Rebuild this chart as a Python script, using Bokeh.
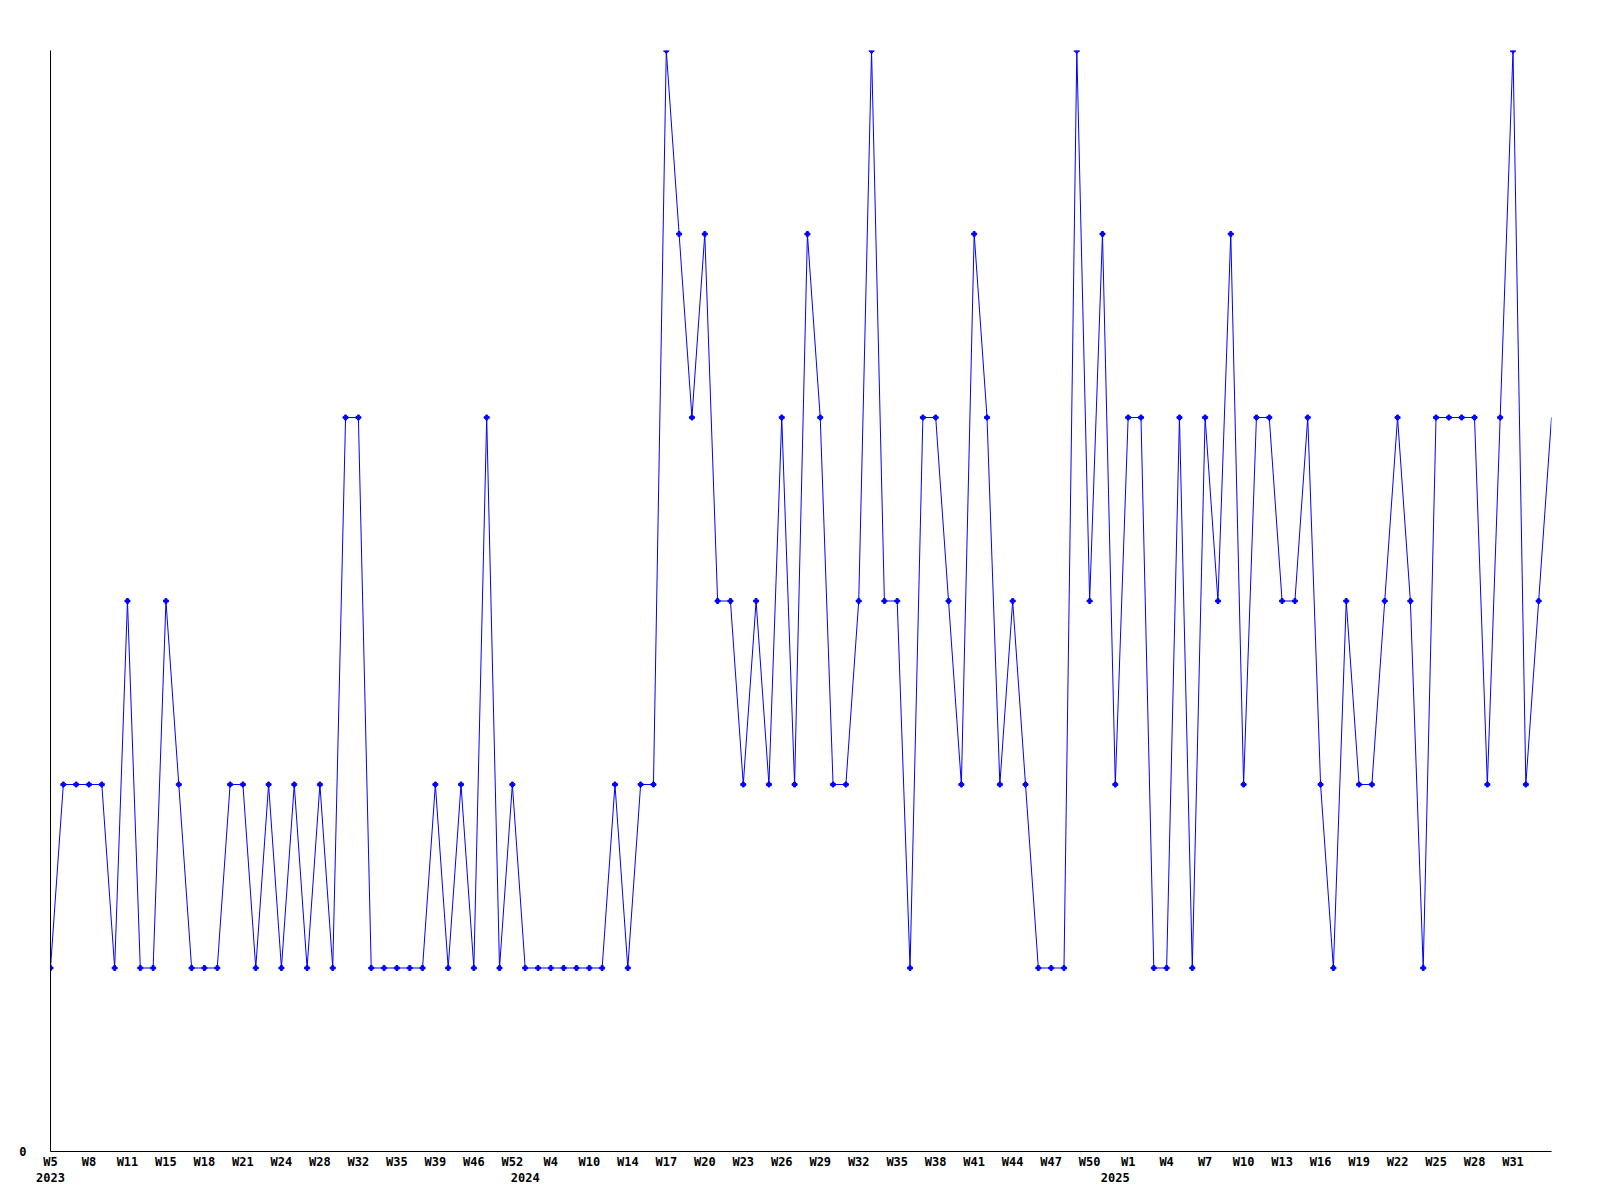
from bokeh.plotting import figure
from bokeh.models import Range1d, FixedTicker, LinearAxis
from bokeh.embed import file_html
from bokeh.resources import INLINE

# weekly values, one per point (evenly spaced)
values = [
    1, 2, 2, 2, 2, 1, 3, 1, 1, 3, 2, 1, 1, 1, 2, 2, 1, 2, 1, 2,
    1, 2, 1, 4, 4, 1, 1, 1, 1, 1, 2, 1, 2, 1, 4, 1, 2, 1, 1, 1,
    1, 1, 1, 1, 2, 1, 2, 2, 6, 5, 4, 5, 3, 3, 2, 3, 2, 4, 2, 5,
    4, 2, 2, 3, 6, 3, 3, 1, 4, 4, 3, 2, 5, 4, 2, 3, 2, 1, 1, 1,
    6, 3, 5, 2, 4, 4, 1, 1, 4, 1, 4, 3, 5, 2, 4, 4, 3, 3, 4, 2,
    1, 3, 2, 2, 3, 4, 3, 1, 4, 4, 4, 4, 2, 4, 6, 2, 3, 4,
]

# week labels shown on every third point
week_labels = [
    "W5", "W8", "W11", "W15", "W18", "W21", "W24", "W28", "W32", "W35",
    "W39", "W46", "W52", "W4", "W10", "W14", "W17", "W20", "W23", "W26",
    "W29", "W32", "W35", "W38", "W41", "W44", "W47", "W50", "W1", "W4",
    "W7", "W10", "W13", "W16", "W19", "W22", "W25", "W28", "W31",
]
label_step = 3

# year labels and the point index where each year starts
years = ["2023", "2024", "2025"]
year_start_index = [0, 37, 83]

x = list(range(len(values)))
FONT = "DejaVu Sans Mono"

p = figure(
    output_backend="svg",
    toolbar_location=None,
    frame_width=1501,
    frame_height=1101,
    min_border_left=50,
    min_border_top=50,
    min_border_right=33,
    min_border_bottom=10,
    x_range=Range1d(0, len(values) - 1),
    y_range=Range1d(0, 6),
    x_axis_type=None,
    y_axis_type=None,
)
p.outline_line_color = None
p.xgrid.visible = False
p.ygrid.visible = False
p.background_fill_color = "white"
p.border_fill_color = "white"

# y axis: only the zero label
yaxis = LinearAxis(ticker=FixedTicker(ticks=[0]))
yaxis.axis_line_color = "black"
yaxis.axis_line_width = 1
yaxis.major_tick_line_color = None
yaxis.minor_tick_line_color = None
yaxis.major_tick_out = 0
yaxis.major_tick_in = 0
yaxis.major_label_standoff = 24
yaxis.major_label_text_font = FONT
yaxis.major_label_text_font_style = "bold"
yaxis.major_label_text_font_size = "12px"
yaxis.major_label_text_color = "black"
p.add_layout(yaxis, "left")

# x axis: week labels
tick_pos = [i * label_step for i in range(len(week_labels))]
xaxis = LinearAxis(ticker=FixedTicker(ticks=tick_pos))
xaxis.major_label_overrides = {t: lab for t, lab in zip(tick_pos, week_labels)}
xaxis.axis_line_color = "black"
xaxis.axis_line_width = 1
xaxis.major_tick_line_color = None
xaxis.minor_tick_line_color = None
xaxis.major_tick_out = 0
xaxis.major_tick_in = 0
xaxis.major_label_standoff = 3
xaxis.major_label_text_font = FONT
xaxis.major_label_text_font_style = "bold"
xaxis.major_label_text_font_size = "12px"
xaxis.major_label_text_color = "black"
p.add_layout(xaxis, "below")

# second row: years
yr_axis = LinearAxis(ticker=FixedTicker(ticks=year_start_index))
yr_axis.major_label_overrides = {t: lab for t, lab in zip(year_start_index, years)}
yr_axis.axis_line_color = None
yr_axis.major_tick_line_color = None
yr_axis.minor_tick_line_color = None
yr_axis.major_tick_out = 0
yr_axis.major_tick_in = 0
yr_axis.major_label_standoff = 1
yr_axis.major_label_text_font = FONT
yr_axis.major_label_text_font_style = "bold"
yr_axis.major_label_text_font_size = "12px"
yr_axis.major_label_text_color = "black"
p.add_layout(yr_axis, "below")

p.line(x, values, line_color="#0000ff", line_width=1)
p.scatter(x[:-1], values[:-1], marker="plus", size=5, color="#0000ff")

open("out.html", "w").write(file_html(p, INLINE))
